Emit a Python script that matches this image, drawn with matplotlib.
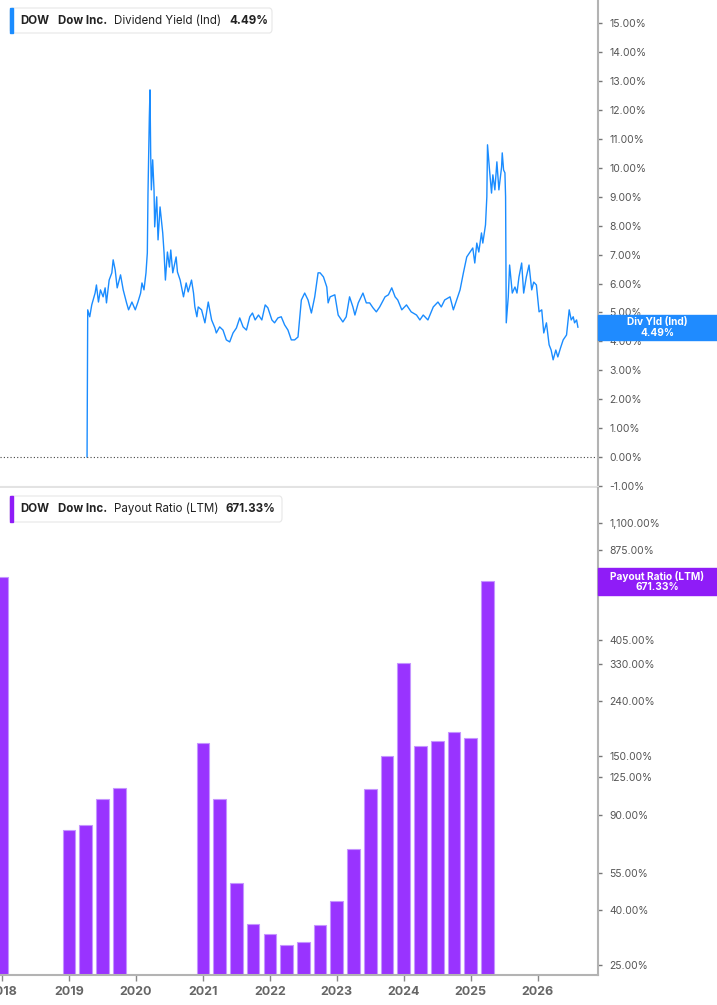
import matplotlib
matplotlib.use("Agg")
import matplotlib.pyplot as plt
from matplotlib.patches import Rectangle, FancyBboxPatch
from matplotlib.ticker import FixedLocator, NullLocator, FuncFormatter

plt.rcParams['font.family'] = ['Inter', 'DejaVu Sans']

# dividend yield (Ind): decimal year, percent
yld_year = [2019.27, 2019.28, 2019.31, 2019.34, 2019.39, 2019.41, 2019.44, 2019.47, 2019.51, 2019.54,
            2019.56, 2019.60, 2019.64, 2019.66, 2019.69, 2019.72, 2019.77, 2019.81, 2019.86, 2019.89,
            2019.94, 2019.99, 2020.03, 2020.07, 2020.09, 2020.12, 2020.15, 2020.17, 2020.18, 2020.20,
            2020.21, 2020.22, 2020.23, 2020.25, 2020.27, 2020.28, 2020.31, 2020.33, 2020.36, 2020.40,
            2020.42, 2020.44, 2020.47, 2020.50, 2020.52, 2020.55, 2020.60, 2020.62, 2020.66, 2020.71,
            2020.75, 2020.78, 2020.83, 2020.86, 2020.88, 2020.91, 2020.93, 2020.98, 2021.03, 2021.08,
            2021.13, 2021.18, 2021.20, 2021.25, 2021.30, 2021.35, 2021.40, 2021.45, 2021.50, 2021.55,
            2021.60, 2021.65, 2021.70, 2021.74, 2021.78, 2021.83, 2021.88, 2021.93, 2021.97, 2022.03,
            2022.07, 2022.12, 2022.17, 2022.22, 2022.27, 2022.32, 2022.37, 2022.42, 2022.47, 2022.52,
            2022.57, 2022.62, 2022.67, 2022.72, 2022.75, 2022.80, 2022.85, 2022.87, 2022.90, 2022.97,
            2023.02, 2023.09, 2023.14, 2023.19, 2023.24, 2023.27, 2023.32, 2023.39, 2023.44, 2023.49,
            2023.54, 2023.59, 2023.64, 2023.72, 2023.77, 2023.82, 2023.87, 2023.91, 2023.97, 2024.04,
            2024.11, 2024.19, 2024.24, 2024.29, 2024.36, 2024.44, 2024.51, 2024.56, 2024.61, 2024.69,
            2024.74, 2024.79, 2024.84, 2024.89, 2024.94, 2024.99, 2025.03, 2025.06, 2025.09, 2025.12,
            2025.16, 2025.18, 2025.22, 2025.24, 2025.25, 2025.28, 2025.31, 2025.33, 2025.36, 2025.39,
            2025.42, 2025.46, 2025.47, 2025.49, 2025.51, 2025.52, 2025.53, 2025.56, 2025.58, 2025.62,
            2025.66, 2025.69, 2025.72, 2025.76, 2025.79, 2025.83, 2025.87, 2025.91, 2025.94, 2025.98,
            2026.02, 2026.06, 2026.09, 2026.13, 2026.17, 2026.20, 2026.23, 2026.27, 2026.30, 2026.34,
            2026.38, 2026.43, 2026.47, 2026.50, 2026.53, 2026.55, 2026.58, 2026.60]
yld_value = [0.00, 5.09, 4.85, 5.26, 5.67, 5.95, 5.36, 5.78, 5.54, 5.85,
             5.33, 6.12, 6.37, 6.82, 6.47, 5.85, 6.30, 5.78, 5.33, 5.09,
             5.36, 5.09, 5.36, 5.67, 6.02, 5.78, 6.37, 7.06, 9.13, 11.76,
             12.70, 10.52, 9.24, 10.28, 9.24, 7.96, 9.00, 7.51, 8.65, 7.75,
             7.06, 6.12, 7.09, 6.57, 7.16, 6.37, 6.92, 6.40, 6.12, 5.54,
             6.02, 5.71, 6.12, 5.67, 5.19, 4.85, 5.19, 5.09, 4.64, 5.36,
             4.74, 4.46, 4.29, 4.50, 4.39, 4.05, 3.98, 4.29, 4.46, 4.81,
             4.50, 4.39, 4.85, 4.98, 4.74, 4.91, 4.74, 5.26, 5.16, 4.74,
             4.64, 4.81, 4.85, 4.57, 4.39, 4.05, 4.05, 4.15, 5.43, 5.67,
             5.43, 4.98, 5.54, 6.37, 6.37, 6.23, 5.88, 5.33, 5.54, 5.61,
             4.91, 4.67, 4.85, 5.54, 5.19, 4.91, 5.33, 5.67, 5.33, 5.33,
             5.16, 5.02, 5.19, 5.54, 5.61, 5.85, 5.54, 5.43, 5.09, 5.26,
             5.02, 4.91, 4.74, 4.91, 4.74, 5.19, 5.36, 5.19, 5.43, 5.54,
             5.09, 5.43, 5.78, 6.37, 6.92, 7.09, 7.23, 6.71, 7.40, 7.09,
             7.75, 7.40, 8.03, 9.00, 10.80, 9.93, 9.13, 9.76, 9.24, 10.21,
             9.24, 10.03, 10.52, 9.93, 9.83, 9.00, 4.64, 5.54, 6.64, 5.67,
             5.88, 5.67, 6.23, 6.71, 5.67, 6.23, 6.64, 5.78, 6.05, 5.95,
             5.02, 5.09, 4.29, 4.64, 3.88, 3.70, 3.36, 3.70, 3.46, 3.77,
             4.05, 4.22, 5.09, 4.74, 4.85, 4.64, 4.74, 4.49]

# payout ratio (LTM), quarterly bars
pay_quarter = [2018.0, 2019.0, 2019.25, 2019.5, 2019.75, 2021.0, 2021.25, 2021.5, 2021.75, 2022.0,
               2022.25, 2022.5, 2022.75, 2023.0, 2023.25, 2023.5, 2023.75, 2024.0, 2024.25, 2024.5,
               2024.75, 2025.0, 2025.25]
pay_value = [693, 79.4, 82.7, 103.6, 113.6, 167.3, 103.9, 50.3, 35.4, 32.5,
             29.7, 30.5, 35.2, 43.4, 67.5, 112.6, 149.7, 331, 163.1, 169.8,
             183.4, 174.2, 671.33]

yld_ticks = list(range(-1, 16))
pay_ticks = [25, 40, 55, 90, 125, 150, 240, 330, 405, 640, 875, 1100]
year_ticks = list(range(2018, 2027))

BLUE = '#1a8cff'
PURPLE = '#9933ff'
AXIS = '#b3b3b3'
LABEL = '#555555'

W, H = 717, 1005
fig = plt.figure(figsize=(W / 100, H / 100), dpi=100)
ax1 = fig.add_axes([0, 1 - 487 / H, 598 / W, 487 / H])
ax2 = fig.add_axes([0, 1 - 975 / H, 598 / W, 487 / H])

xmin, xmax = 2017.97, 2026.90

# ---- top: dividend yield
ax1.plot(yld_year, yld_value, color=BLUE, lw=1.0)
ax1.axhline(0, color='#444444', lw=0.8, ls=(0, (1, 2)))
ax1.set_xlim(xmin, xmax)
ax1.set_ylim(-1.04, 15.81)
ax1.yaxis.tick_right()
ax1.yaxis.set_major_locator(FixedLocator(yld_ticks))
ax1.yaxis.set_major_formatter(FuncFormatter(lambda v, p: '%.2f%%' % v))
ax1.set_xticks([])
for s in ['left', 'top']:
    ax1.spines[s].set_visible(False)
ax1.spines['right'].set_color(AXIS)
ax1.spines['right'].set_linewidth(1.5)
ax1.spines['bottom'].set_color('#e3e3e3')
ax1.spines['bottom'].set_linewidth(1.5)

# ---- bottom: payout ratio (log)
base = 22.95
ax2.set_yscale('log')
ax2.bar(pay_quarter, [v - base for v in pay_value], bottom=base, width=0.19,
        color=PURPLE, edgecolor='#c595ff', linewidth=0.8)
ax2.set_xlim(xmin, xmax)
ax2.set_ylim(base, 1486)
ax2.yaxis.tick_right()
ax2.yaxis.set_major_locator(FixedLocator(pay_ticks))
ax2.yaxis.set_minor_locator(NullLocator())
ax2.yaxis.set_major_formatter(FuncFormatter(lambda v, p: '{:,.2f}%'.format(v)))
ax2.xaxis.set_major_locator(FixedLocator(year_ticks))
ax2.xaxis.set_minor_locator(NullLocator())
ax2.set_xticklabels([str(y) for y in year_ticks])
for s in ['left', 'top']:
    ax2.spines[s].set_visible(False)
for s in ['right', 'bottom']:
    ax2.spines[s].set_color(AXIS)
    ax2.spines[s].set_linewidth(1.5)

for ax in (ax1, ax2):
    ax.tick_params(axis='y', direction='out', length=3, width=1, color='#777777',
                   labelcolor=LABEL, labelsize=7.5, pad=5)
ax2.tick_params(axis='x', direction='out', length=4, width=1, color='#888888',
                labelcolor='#666666', labelsize=9, pad=4)
for t in ax2.get_xticklabels():
    t.set_fontweight('bold')


def px(x, y):
    return x / W, 1 - y / H


# value tags at the right
def tag(y0, y1, color, line1, line2):
    fig.patches.append(Rectangle(px(598, y1), 119 / W, (y1 - y0) / H,
                                 transform=fig.transFigure, color=color, zorder=5))
    xc = 657.5 / W
    fig.text(xc, 1 - (y0 + (y1 - y0) * 0.30) / H, line1, color='white', fontsize=7.3,
             fontweight='bold', ha='center', va='center', zorder=6)
    fig.text(xc, 1 - (y0 + (y1 - y0) * 0.72) / H, line2, color='white', fontsize=7.3,
             fontweight='bold', ha='center', va='center', zorder=6)


tag(315, 340, '#1f8bff', 'Div Yld (Ind)', '4.49%')
tag(568, 595, '#8f1cf7', 'Payout Ratio (LTM)', '671.33%')


# legend boxes at the top left
def legend(y0, y1, x1, color, parts):
    fig.patches.append(FancyBboxPatch(px(10, y1), (x1 - 10) / W, (y1 - y0) / H,
                                      boxstyle='round,pad=0,rounding_size=0.004',
                                      transform=fig.transFigure, facecolor='white',
                                      edgecolor='#e6e6e6', lw=0.8, zorder=5))
    fig.patches.append(Rectangle(px(10, y1), 3 / W, (y1 - y0) / H,
                                 transform=fig.transFigure, color=color, zorder=6))
    yc = 1 - (y0 + y1) / 2 / H
    for x, s, w in parts:
        fig.text(x / W, yc, s, fontsize=8.3, fontweight=w, color='#222222',
                 ha='left', va='center', zorder=7)


legend(8, 33, 272, BLUE, [(20, 'DOW', 'bold'), (58, 'Dow Inc.', 'bold'),
                          (114, 'Dividend Yield (Ind)', 'normal'), (229, '4.49%', 'bold')])
legend(496, 522, 282, '#8f1cf7', [(20, 'DOW', 'bold'), (58, 'Dow Inc.', 'bold'),
                                  (114, 'Payout Ratio (LTM)', 'normal'), (225, '671.33%', 'bold')])

fig.savefig('out.png', dpi=100)
